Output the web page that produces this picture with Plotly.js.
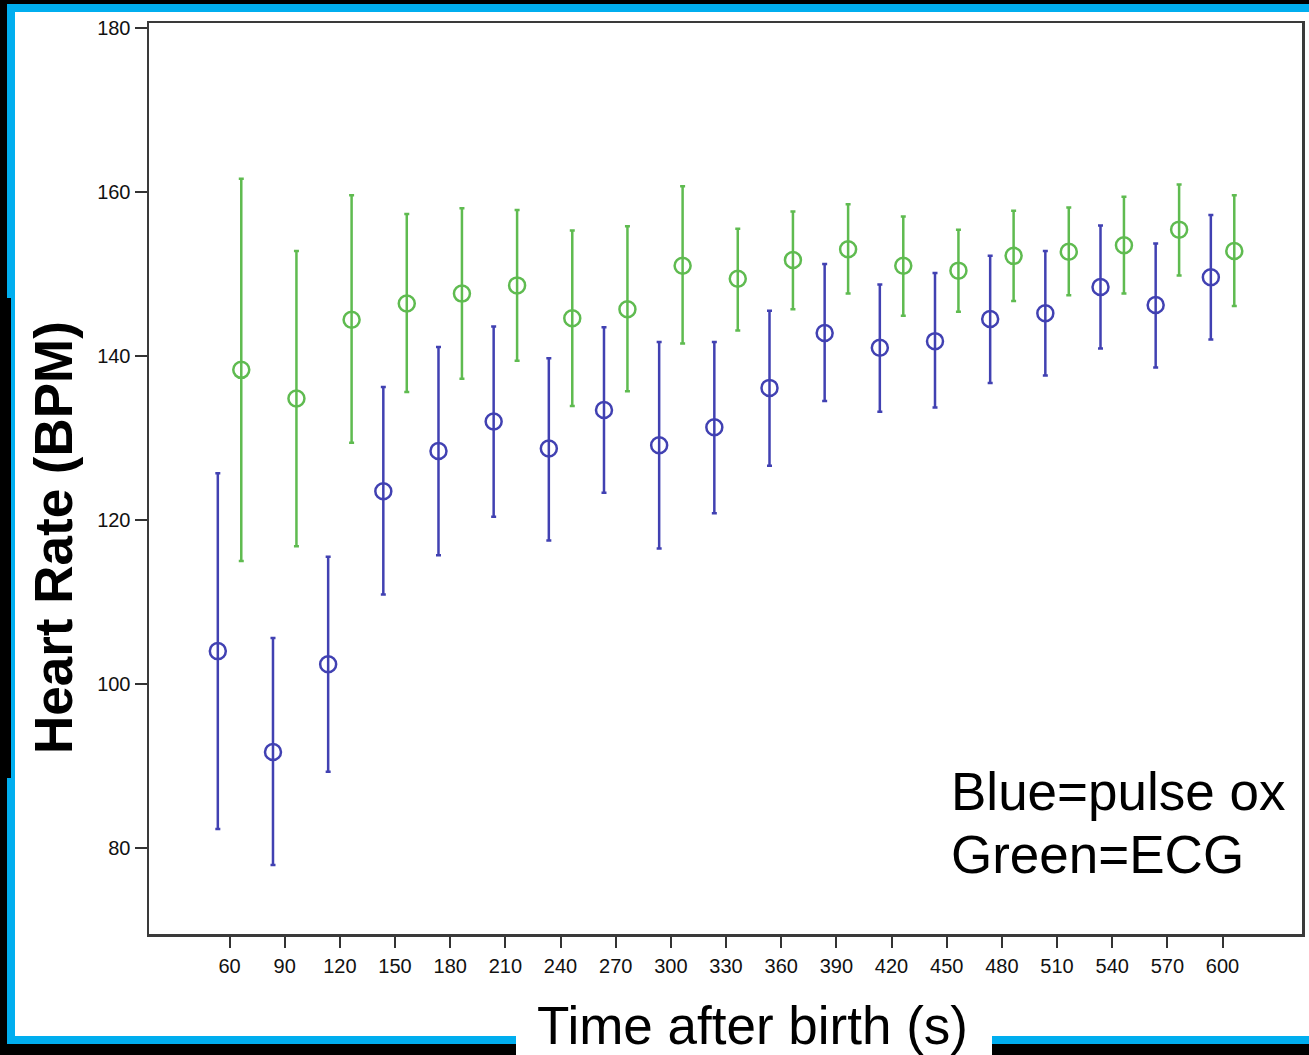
<!DOCTYPE html>
<html>
<head>
<meta charset="utf-8">
<script src="https://cdn.plot.ly/plotly-3.0.1.min.js"></script>
<style>html,body{margin:0;padding:0;background:#000;}#chart{width:1309px;height:1055px;}</style>
</head>
<body>
<div id="chart"></div>
<script>
// ---- data ----
const timeLabels = ["60","90","120","150","180","210","240","270","300","330","360","390","420","450","480","510","540","570","600"];

const pulseMean  = [104.0, 91.7, 102.4, 123.5, 128.4, 132.0, 128.7, 133.4, 129.1, 131.3, 136.1, 142.8, 141.0, 141.8, 144.5, 145.2, 148.4, 146.2, 149.6];
const pulseUpper = [125.7, 105.6, 115.5, 136.2, 141.1, 143.6, 139.7, 143.5, 141.7, 141.7, 145.5, 151.2, 148.7, 150.1, 152.2, 152.8, 155.9, 153.7, 157.2];
const pulseLower = [ 82.3,  77.9,  89.3, 110.9, 115.7, 120.4, 117.5, 123.3, 116.5, 120.8, 126.6, 134.5, 133.2, 133.7, 136.7, 137.6, 140.9, 138.6, 142.0];

const ecgMean  = [138.3, 134.8, 144.4, 146.4, 147.6, 148.6, 144.6, 145.7, 151.0, 149.4, 151.7, 153.0, 151.0, 150.4, 152.2, 152.7, 153.5, 155.4, 152.8];
const ecgUpper = [161.6, 152.8, 159.6, 157.3, 158.0, 157.8, 155.3, 155.8, 160.7, 155.5, 157.6, 158.5, 157.0, 155.4, 157.7, 158.1, 159.4, 160.9, 159.6];
const ecgLower = [115.0, 116.8, 129.4, 135.6, 137.2, 139.4, 133.9, 135.7, 141.5, 143.1, 145.7, 147.6, 144.9, 145.4, 146.7, 147.4, 147.6, 149.8, 146.1];

const yTicks = [80, 100, 120, 140, 160, 180];

// ---- styling ----
const BLUE = "#4141b2";
const GREEN = "#5fbb50";
const FONT = "Liberation Sans, Arial, sans-serif";
const W = 1309, H = 1055;
const L = 149, R = 7, T = 23, B = 121;
const PW = W - L - R, PH = H - T - B;
const px = X => (X - L) / PW;
const py = Y => (H - B - Y) / PH;

function diff(a, b) { return a.map((v, i) => v - b[i]); }

function series(name, mean, upper, lower, color, group) {
  return {
    type: "scatter",
    mode: "markers",
    name: name,
    x: timeLabels,
    y: mean,
    offsetgroup: group,
    marker: { symbol: "circle-open", size: 16, color: color, line: { width: 2.5, color: color } },
    error_y: {
      type: "data", symmetric: false,
      array: diff(upper, mean),
      arrayminus: diff(mean, lower),
      color: color, thickness: 2.5, width: 2.5
    },
    showlegend: false,
    hoverinfo: "x+y"
  };
}

const data = [
  series("Blue=pulse ox", pulseMean, pulseUpper, pulseLower, BLUE, "pulse"),
  series("Green=ECG", ecgMean, ecgUpper, ecgLower, GREEN, "ecg")
];

function rect(x0, y0, x1, y1, color) {
  return { type: "rect", xref: "paper", yref: "paper", x0: px(x0), x1: px(x1), y0: py(y1), y1: py(y0),
           fillcolor: color, line: { width: 0 }, layer: "below" };
}

const shapes = [
  rect(15, 12, 1309, 1036, "#ffffff"),
  rect(7, 4, 1309, 12, "#00aeef"),
  rect(7, 4, 15, 1044, "#00aeef"),
  rect(7, 298, 11, 778, "#000000"),
  rect(7, 1036, 516, 1044, "#00aeef"),
  rect(992, 1036, 1309, 1044, "#00aeef"),
  rect(516, 1036, 992, 1055, "#ffffff")
];

const annotations = [
  { text: "Heart Rate (BPM)", xref: "paper", yref: "paper", x: px(54), y: py(538), xanchor: "center", yanchor: "middle",
    textangle: -90, showarrow: false, font: { family: FONT, size: 53, color: "#000", weight: "bold" } },
  { text: "Time after birth (s)", xref: "paper", yref: "paper", x: px(752), y: py(1025), xanchor: "center", yanchor: "middle",
    showarrow: false, font: { family: FONT, size: 53, color: "#000" } },
  { text: "Blue=pulse ox", xref: "paper", yref: "paper", x: px(949), y: py(791), xanchor: "left", yanchor: "middle",
    showarrow: false, font: { family: FONT, size: 53, color: "#000" } },
  { text: "Green=ECG", xref: "paper", yref: "paper", x: px(949), y: py(854), xanchor: "left", yanchor: "middle",
    showarrow: false, font: { family: FONT, size: 53, color: "#000" } }
];

const layout = {
  width: W, height: H,
  margin: { l: L, r: R, t: T, b: B, pad: 0 },
  paper_bgcolor: "#000000",
  plot_bgcolor: "#ffffff",
  scattermode: "group",
  scattergap: 0.15,
  showlegend: false,
  xaxis: {
    type: "category",
    range: [-1.46, 19.44],
    showgrid: false, zeroline: false,
    showline: true, linecolor: "#3a3a3a", linewidth: 2.5, mirror: true,
    ticks: "outside", ticklen: 11, tickwidth: 2, tickcolor: "#333",
    tickfont: { family: FONT, size: 20, color: "#111" },
    ticklabelstandoff: 1
  },
  yaxis: {
    range: [69.5, 180.6],
    tickvals: yTicks,
    ticktext: yTicks.map(String),
    showgrid: false, zeroline: false,
    showline: true, linecolor: "#3a3a3a", linewidth: 2.5, mirror: true,
    ticks: "outside", ticklen: 12, tickwidth: 2, tickcolor: "#333",
    tickfont: { family: FONT, size: 20, color: "#111" }
  },
  shapes: shapes,
  annotations: annotations
};

Plotly.newPlot("chart", data, layout, { displayModeBar: false, staticPlot: true });
</script>
</body>
</html>
